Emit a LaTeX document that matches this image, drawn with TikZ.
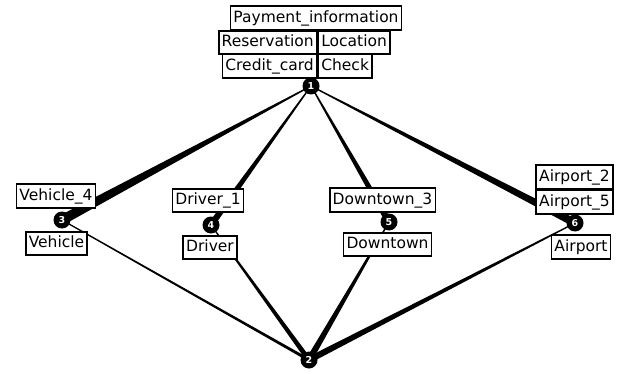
\documentclass[tikz,border=0pt]{standalone}
\usepackage{fontspec}
\setmainfont{DejaVu Sans}
\usetikzlibrary{calc,positioning,backgrounds}

\newcommand{\wedgeedge}[3]{%
  \fill ($(#1)!0.6pt!90:(#2)$) -- ($(#2)!#3!-90:(#1)$) -- ($(#2)!#3!90:(#1)$) -- ($(#1)!0.6pt!-90:(#2)$) -- cycle;}

\tikzset{num/.style={circle,fill=black,text=white,inner sep=0pt,minimum size=17pt,font=\fontsize{9.5}{9.5}\selectfont\bfseries},
         lab/.style={draw,fill=white,line width=1.6pt,inner xsep=3pt,inner ysep=0pt,minimum height=23.5pt,text height=11.5pt,text depth=3pt,font=\fontsize{15.5}{17}\selectfont}}

\begin{document}
\begin{tikzpicture}[x=1pt,y=-1pt]
   \useasboundingbox (0,0) rectangle (620,374);
   \node[num] (n1) at (311,86) {1};
   \node[num] (n2) at (309,360) {2};
   \node[num] (n3) at (62,220) {3};
   \node[num] (n4) at (211,225) {4};
   \node[num] (n5) at (389,222) {5};
   \node[num] (n6) at (575,223) {6};
   \begin{pgfonlayer}{background}
   \wedgeedge{n1}{n3}{5pt}
   \wedgeedge{n1}{n4}{3.2pt}
   \wedgeedge{n1}{n5}{3.2pt}
   \wedgeedge{n1}{n6}{4pt}
   \wedgeedge{n3}{n2}{1.5pt}
   \wedgeedge{n4}{n2}{2.5pt}
   \wedgeedge{n5}{n2}{3.2pt}
   \wedgeedge{n6}{n2}{3.2pt}
   \end{pgfonlayer}
   \node[lab] (payinfo) at (316,18) {Payment\_information};
   \node[lab,anchor=east] (reserv) at (317.5,42.5) {Reservation};
   \node[lab,right=0pt of reserv] (loc) {Location};
   \node[lab,anchor=east] (ccard) at (317.5,66) {Credit\_card};
   \node[lab,right=0pt of ccard] (check) {Check};
   \node[lab] (veh4) at (56,196) {Vehicle\_4};
   \node[lab] (veh) at (56.5,243.5) {Vehicle};
   \node[lab] (drv1) at (208,200.5) {Driver\_1};
   \node[lab] (drv) at (210,247.5) {Driver};
   \node[lab] (down3) at (382.5,200) {Downtown\_3};
   \node[lab] (down) at (387.5,244.5) {Downtown};
   \node[lab] (air5) at (574.5,202) {Airport\_5};
   \node[lab,above=0pt of air5] (air2) {Airport\_2};
   \node[lab] (air) at (581,247) {Airport};
\end{tikzpicture}
\end{document}
